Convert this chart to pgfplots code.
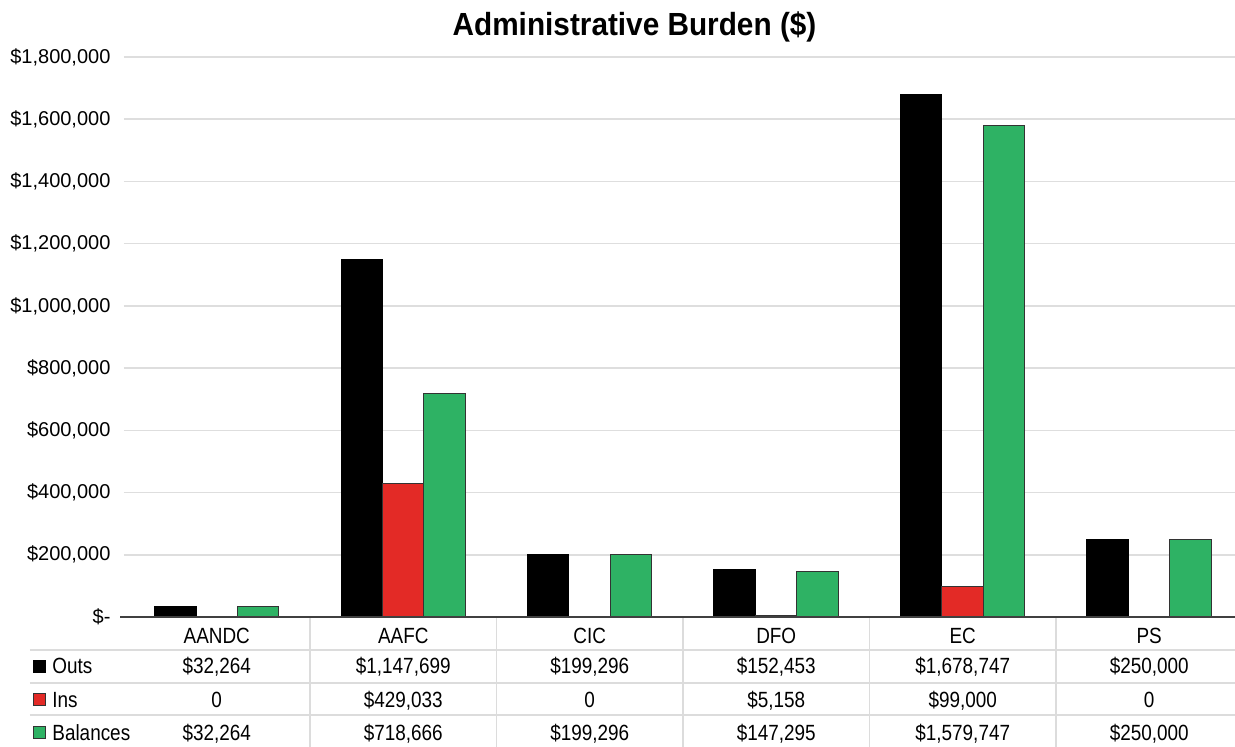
\documentclass[border=0pt]{standalone}
\usepackage{pgfplots}
\pgfplotsset{compat=1.18}
\usepackage{fontspec}
\setmainfont{Liberation Sans}
\newfontfamily\narrow[FakeStretch=0.86]{Liberation Sans}
\newfontfamily\titlefont[FakeStretch=0.93]{Liberation Sans}
\definecolor{insred}{HTML}{E32A26}
\definecolor{balgreen}{HTML}{2EB264}
\definecolor{gridgray}{HTML}{DEDEDE}
\definecolor{tblgray}{HTML}{DCDCDC}
\definecolor{axisgray}{HTML}{404040}
\tikzset{
  cell/.style={font=\narrow\fontsize{11}{13}\selectfont, anchor=base, inner sep=0pt},
  tline/.style={tblgray, line width=0.75pt},
}

\begin{document}
\begin{tikzpicture}
\path[use as bounding box] (0,0) rectangle (617.5pt,373.5pt);
\begin{axis}[
  at={(61.75pt,65pt)}, anchor=south west,
  scale only axis, width=555.75pt, height=280pt,
  xmin=-0.5, xmax=5.46, ymin=0, ymax=1800000,
  axis line style={draw=none},
  major tick length=0pt,
  scaled y ticks=false,
  ymajorgrids, grid style={gridgray, line width=0.75pt},
  ytick={0,200000,400000,600000,800000,1000000,1200000,1400000,1600000,1800000},
  yticklabels={\$-,{\$200,000},{\$400,000},{\$600,000},{\$800,000},{\$1,000,000},{\$1,200,000},{\$1,400,000},{\$1,600,000},{\$1,800,000}},
  yticklabel style={font=\fontsize{10}{12}\selectfont, anchor=east, xshift=-3pt},
  xtick={0,1,2,3,4,5},
  xticklabels={AANDC,AAFC,CIC,DFO,EC,PS},
  xticklabel style={font=\narrow\fontsize{11}{13}\selectfont, anchor=base, yshift=-13.3pt},
  ybar, bar width=0.2225,
  clip=false,
]
\addplot[fill=black, draw=black, line width=0.5pt, bar shift=-0.2225]
  coordinates {(0,32264) (1,1147699) (2,199296) (3,152453) (4,1678747) (5,250000)};
\addplot[fill=insred, draw=black!80, line width=0.5pt, bar shift=0]
  coordinates {(0,0) (1,429033) (2,0) (3,5158) (4,99000) (5,0)};
\addplot[fill=balgreen, draw=black!80, line width=0.5pt, bar shift=0.2225]
  coordinates {(0,32264) (1,718666) (2,199296) (3,147295) (4,1579747) (5,250000)};

% data table below the axis
\draw[tline] ([xshift=-46.75pt, yshift=-16.5pt]rel axis cs:0,0) -- ([yshift=-16.5pt]rel axis cs:1,0);
\draw[tline] ([xshift=-46.75pt, yshift=-33pt]rel axis cs:0,0) -- ([yshift=-33pt]rel axis cs:1,0);
\draw[tline] ([xshift=-46.75pt, yshift=-49pt]rel axis cs:0,0) -- ([yshift=-49pt]rel axis cs:1,0);
\draw[tline] (axis cs:0.5,0) -- ([yshift=-66pt]axis cs:0.5,0);
\draw[tline] (axis cs:1.5,0) -- ([yshift=-66pt]axis cs:1.5,0);
\draw[tline] (axis cs:2.5,0) -- ([yshift=-66pt]axis cs:2.5,0);
\draw[tline] (axis cs:3.5,0) -- ([yshift=-66pt]axis cs:3.5,0);
\draw[tline] (axis cs:4.5,0) -- ([yshift=-66pt]axis cs:4.5,0);
\draw[axisgray, line width=1pt] ([xshift=-1.5pt]rel axis cs:0,0) -- (rel axis cs:1,0);

% legend keys and row names
\fill[black] ([xshift=-45.25pt, yshift=-21.3pt]rel axis cs:0,0) rectangle ++(6.5pt,-6.5pt);
\filldraw[fill=insred, draw=black!80, line width=0.5pt] ([xshift=-45pt, yshift=-38.3pt]rel axis cs:0,0) rectangle ++(6pt,-6pt);
\filldraw[fill=balgreen, draw=black!80, line width=0.5pt] ([xshift=-45pt, yshift=-54.8pt]rel axis cs:0,0) rectangle ++(6pt,-6pt);
\node[cell, anchor=base west] at ([xshift=-35.75pt, yshift=-28.3pt]rel axis cs:0,0) {Outs};
\node[cell, anchor=base west] at ([xshift=-35.75pt, yshift=-45.3pt]rel axis cs:0,0) {Ins};
\node[cell, anchor=base west] at ([xshift=-35.75pt, yshift=-61.8pt]rel axis cs:0,0) {Balances};

% Outs
\node[cell] at ([yshift=-28.3pt]axis cs:0,0) {\$32,264};
\node[cell] at ([yshift=-28.3pt]axis cs:1,0) {\$1,147,699};
\node[cell] at ([yshift=-28.3pt]axis cs:2,0) {\$199,296};
\node[cell] at ([yshift=-28.3pt]axis cs:3,0) {\$152,453};
\node[cell] at ([yshift=-28.3pt]axis cs:4,0) {\$1,678,747};
\node[cell] at ([yshift=-28.3pt]axis cs:5,0) {\$250,000};
% Ins
\node[cell] at ([yshift=-45.3pt]axis cs:0,0) {0};
\node[cell] at ([yshift=-45.3pt]axis cs:1,0) {\$429,033};
\node[cell] at ([yshift=-45.3pt]axis cs:2,0) {0};
\node[cell] at ([yshift=-45.3pt]axis cs:3,0) {\$5,158};
\node[cell] at ([yshift=-45.3pt]axis cs:4,0) {\$99,000};
\node[cell] at ([yshift=-45.3pt]axis cs:5,0) {0};
% Balances
\node[cell] at ([yshift=-61.8pt]axis cs:0,0) {\$32,264};
\node[cell] at ([yshift=-61.8pt]axis cs:1,0) {\$718,666};
\node[cell] at ([yshift=-61.8pt]axis cs:2,0) {\$199,296};
\node[cell] at ([yshift=-61.8pt]axis cs:3,0) {\$147,295};
\node[cell] at ([yshift=-61.8pt]axis cs:4,0) {\$1,579,747};
\node[cell] at ([yshift=-61.8pt]axis cs:5,0) {\$250,000};
\end{axis}
\node[font=\titlefont\bfseries\fontsize{16}{19}\selectfont] at (317.25pt,360pt) {Administrative Burden (\$)};
\end{tikzpicture}
\end{document}
